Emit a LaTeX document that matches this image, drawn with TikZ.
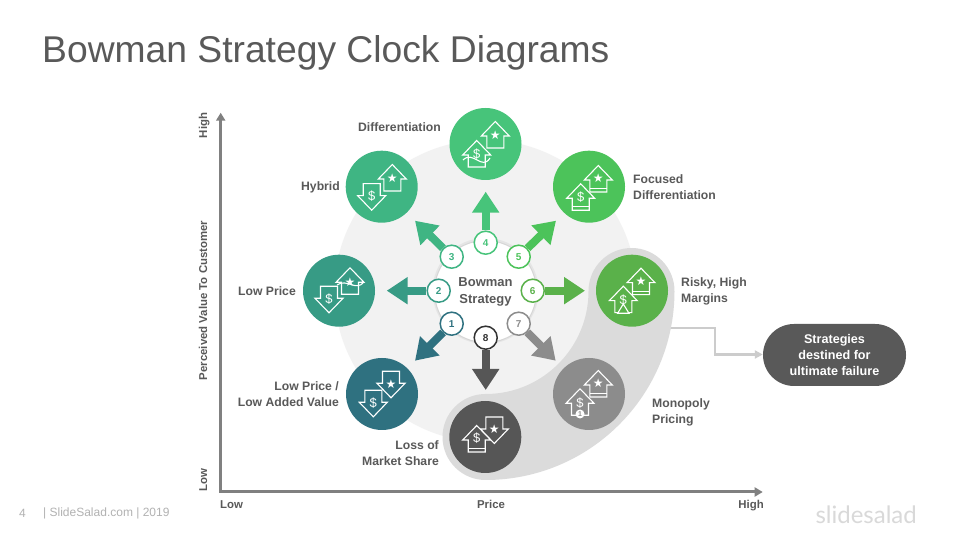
\documentclass[tikz,border=0pt]{standalone}
\usepackage{fontspec}
\setmainfont{Liberation Sans}
\newfontfamily\symfont{DejaVu Sans}
\newfontfamily\logofont{Lato}
\usetikzlibrary{arrows.meta}
\definecolor{txtgrey}{HTML}{595959}
\definecolor{cOne}{HTML}{2F7180}
\definecolor{cTwo}{HTML}{379B85}
\definecolor{cThree}{HTML}{3FB583}
\definecolor{cFour}{HTML}{47C47A}
\definecolor{cFive}{HTML}{4CC35A}
\definecolor{cSix}{HTML}{5AB14A}
\definecolor{cSeven}{HTML}{8C8C8C}
\definecolor{cEight}{HTML}{565656}
\newcommand{\starsym}{{\symfont\fontsize{12}{12}\selectfont ★}}
\tikzset{
  lab/.style={text=txtgrey,font=\bfseries\fontsize{12.2}{16}\selectfont,inner sep=0pt},
  axlab/.style={text=txtgrey,font=\bfseries\fontsize{11.4}{14}\selectfont,inner sep=0pt},
  disc/.style={circle,minimum size=72pt,inner sep=0pt},
  num/.style={circle,draw=#1,fill=white,line width=1.5pt,minimum size=23pt,inner sep=0pt,
    text=#1,font=\bfseries\fontsize{10}{10}\selectfont},
  spoke/.style={draw=#1,line width=8pt,-{Triangle[length=21pt,width=26pt,fill=#1]}},
  icon/.style={draw=white,line width=1.1pt,line join=miter},
  axis/.style={draw=black!50,line width=3pt,{Triangle[length=8pt,width=9pt]}-{Triangle[length=8pt,width=9pt]}},
  pics/upicon/.style={code={
    \filldraw[icon] (0,14.5) -- (14,0) -- (8.5,0) -- (8.5,-12) -- (-8.5,-12) -- (-8.5,0) -- (-14,0) -- cycle;
    \node[text=white,inner sep=0pt,font=\fontsize{13}{13}\selectfont] at (0,0.5) {#1};
  }},
  pics/upbar/.style={code={
    \filldraw[icon] (0,14.5) -- (14,0) -- (8.5,0) -- (8.5,-12) -- (-8.5,-12) -- (-8.5,0) -- (-14,0) -- cycle;
    \draw[icon] (-8.5,-8.5) -- (8.5,-8.5);
    \node[text=white,inner sep=0pt,font=\fontsize{13}{13}\selectfont] at (0,1.5) {#1};
  }},
  pics/downicon/.style={code={
    \filldraw[icon] (0,-14.5) -- (14,0) -- (8.5,0) -- (8.5,12) -- (-8.5,12) -- (-8.5,0) -- (-14,0) -- cycle;
    \node[text=white,inner sep=0pt,font=\fontsize{13}{13}\selectfont] at (0,-0.5) {#1};
  }}
}
\begin{document}
\begin{tikzpicture}[x=1pt,y=1pt]
\useasboundingbox (0,0) rectangle (960,540);
\fill[white] (0,0) rectangle (960,540);
\node[text=txtgrey,font=\fontsize{37.25}{40}\selectfont,anchor=west,inner sep=0pt] (title) at (42,487) {Bowman Strategy Clock Diagrams};

% axes
\coordinate (ytop) at (220.7,427.3);
\coordinate (orig) at (220.7,48);
\coordinate (xend) at (762.7,48);
\draw[axis] (ytop) -- (orig) -- (xend);
\node[axlab,rotate=90,anchor=base] (yhigh) at (207,414.5) {High};
\node[axlab,rotate=90,anchor=base] (yname) at (207,239.5) {Perceived Value To Customer};
\node[axlab,rotate=90,anchor=base] (ylow) at (207,59.5) {Low};
\node[axlab,anchor=base west] (xlow) at (220,31) {Low};
\node[axlab,anchor=base] (xname) at (491,31) {Price};
\node[axlab,anchor=base east] (xhigh) at (764,31) {High};

% background
\fill[black!5] (485.5,249) circle (151);
\coordinate (cfrom) at (660,212);
\coordinate (cbend) at (715,212);
\coordinate (cdown) at (715,185.5);
\node[fill=txtgrey,rounded corners=31pt,minimum width=143pt,minimum height=62pt,inner sep=0pt,
  text=white,align=center,font=\bfseries\fontsize{12.6}{16}\selectfont] (fail) at (834.5,185) {Strategies\\destined for\\ultimate failure};
\draw[draw=black!20,line width=2.5pt,-{Triangle[length=8pt,width=8pt]}] (cfrom) -- (cbend) -- (cdown) -- (fail.west |- cdown);
\draw[draw=black!14,line width=86pt,line cap=round] (631.5,249) arc (0:-90:146);

% centre
\fill[black!10] (485.5,249) circle (53);
\node[circle,fill=white,draw=black!16,line width=1pt,minimum size=102pt,inner sep=0pt,
  text=txtgrey,align=center,font=\bfseries\fontsize{13}{17}\selectfont] (hub) at (485.5,248.5) {Bowman\\Strategy};

% big circles
\node[disc,fill=cFour] (dDiff) at (485.5,396) {};
\node[disc,fill=cThree] (dHyb) at (381.7,353.3) {};
\node[disc,fill=cFive] (dFoc) at (589,353.3) {};
\node[disc,fill=cTwo] (dLow) at (339,249.3) {};
\node[disc,fill=cSix] (dRisk) at (632,249.3) {};
\node[disc,fill=cOne] (dAdd) at (382,146) {};
\node[disc,fill=cSeven] (dMono) at (589,146) {};
\node[disc,fill=cEight] (dLoss) at (485.3,103) {};

% numbers and arrows
\node[num=cOne] (n1) at (451.7,216.3) {1};
\node[num=cTwo] (n2) at (438.7,249.3) {2};
\node[num=cThree] (n3) at (451.7,283.3) {3};
\node[num=cFour] (n4) at (485.7,297.3) {4};
\node[num=cFive] (n5) at (518.7,283.3) {5};
\node[num=cSix] (n6) at (532.7,249.3) {6};
\node[num=cSeven] (n7) at (518.7,216.3) {7};
\node[num=black!80] (n8) at (485.7,202.3) {8};
\coordinate (t1) at (415,179.3);
\coordinate (t2) at (386.7,249.3);
\coordinate (t3) at (415,319.3);
\coordinate (t4) at (485.7,348.3);
\coordinate (t5) at (556,319.3);
\coordinate (t6) at (585,249.3);
\coordinate (t7) at (555.7,179.3);
\coordinate (t8) at (485.7,150);
\draw[spoke=cOne] (n1) -- (t1);
\draw[spoke=cTwo] (n2) -- (t2);
\draw[spoke=cThree] (n3) -- (t3);
\draw[spoke=cFour] (n4) -- (t4);
\draw[spoke=cFive] (n5) -- (t5);
\draw[spoke=cSix] (n6) -- (t6);
\draw[spoke=cSeven] (n7) -- (t7);
\draw[spoke=cEight] (n8) -- (t8);

% icons
\pic[fill=cFour] at (495.3,404) {upicon=\starsym};
\pic[fill=cFour] at (476.7,385) {upicon=\$};
\draw[icon] (463,380) .. controls (473,390) and (482,369) .. (490,382);
\pic[fill=cThree] at (392.3,361) {upicon=\starsym};
\pic[fill=cThree] at (371.7,344.3) {downicon=\$};
\pic[fill=cFive] at (598.3,360) {upbar=\starsym};
\pic[fill=cFive] at (580.7,341.7) {upbar=\$};
\pic[fill=cTwo] at (350,257.7) {upicon=\starsym};
\pic[fill=cTwo] at (329,241.7) {downicon=\$};
\draw[icon] (337,255) .. controls (347,262) and (356,248) .. (364,258);
\pic[fill=cSix] at (641,257.3) {upbar=\starsym};
\pic[fill=cSix] at (623.3,239.3) {upicon=\$};
\draw[icon,fill=cSix] (623.3,236) -- (629,226.7) -- (617.6,226.7) -- cycle;
\pic[fill=cOne] at (391,156.7) {downicon=\starsym};
\pic[fill=cOne] at (373.3,137.7) {downicon=\$};
\pic[fill=cSeven] at (598.3,155) {upbar=\starsym};
\pic[fill=cSeven] at (580,136.7) {upicon=\$};
\node[circle,fill=white,minimum size=9pt,inner sep=0pt,text=cSeven,font=\bfseries\fontsize{7}{7}\selectfont] (mono1) at (580,126) {1};
\pic[fill=cEight] at (494.3,111) {downicon=\starsym};
\pic[fill=cEight] at (476.7,100) {upbar=\$};

% labels
\node[lab,anchor=east] (lDiff) at (441,413) {Differentiation};
\node[lab,anchor=east] (lHyb) at (340,352.5) {Hybrid};
\node[lab,anchor=west,align=left] (lFoc) at (633,353) {Focused\\Differentiation};
\node[lab,anchor=east] (lLow) at (296,249) {Low Price};
\node[lab,anchor=east,align=right] (lAdd) at (339,146) {Low Price /\\Low Added Value};
\node[lab,anchor=east,align=right] (lLoss) at (439,87) {Loss of\\Market Share};
\node[lab,anchor=west,align=left] (lRisk) at (681,249) {Risky, High\\Margins};
\node[lab,anchor=west,align=left] (lMono) at (652,128) {Monopoly\\Pricing};

% footer
\node[text=black!30,font=\fontsize{12}{14}\selectfont,anchor=west,inner sep=0pt] (page) at (19,26.5) {4};
\node[text=black!30,font=\fontsize{12}{14}\selectfont,anchor=west,inner sep=0pt] (foot) at (43,26.5) {| SlideSalad.com | 2019};
\node[text=black!15,font=\logofont\fontsize{24}{26}\selectfont,anchor=east,inner sep=0pt] (logo) at (917,25) {slidesalad};
\end{tikzpicture}
\end{document}
